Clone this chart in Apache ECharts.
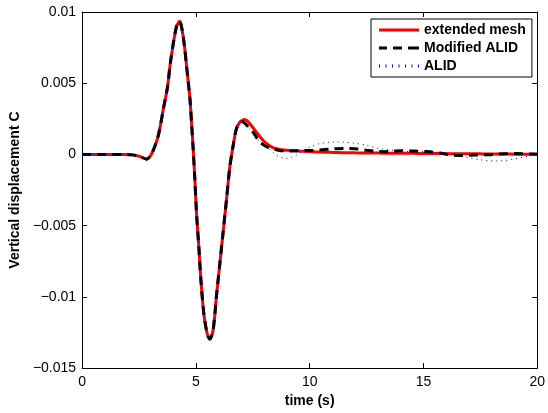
<!DOCTYPE html>
<html>
<head>
<meta charset="utf-8">
<script src="https://cdn.jsdelivr.net/npm/echarts@6/dist/echarts.min.js"></script>
<style>
html,body{margin:0;padding:0;background:#fff;}
#chart{width:548px;height:413px;}
</style>
</head>
<body>
<div id="chart"></div>
<script>
const seriesNames = ['extended mesh', 'Modified ALID', 'ALID'];
const yTickLabels = ['\u22120.015', '\u22120.01', '\u22120.005', '0', '0.005', '0.01'];
const xTickLabels = ['0', '5', '10', '15', '20'];

const time = [0, 1, 1.8, 2.2, 2.5, 2.84, 3.0, 3.13, 3.25, 3.35, 3.46, 3.57, 3.67, 3.76, 3.86, 3.95, 4.05, 4.15, 4.22, 4.28, 4.35, 4.44, 4.52, 4.59, 4.67, 4.74, 4.81, 4.88, 4.96, 5.03, 5.13, 5.22, 5.35, 5.47, 5.54, 5.61, 5.68, 5.76, 5.83, 5.9, 6.05, 6.2, 6.35, 6.49, 6.64, 6.78, 6.93, 7.05, 7.15, 7.26, 7.37, 7.51, 7.66, 7.8, 7.95, 8.1, 8.25, 8.39, 8.54, 8.68, 8.83, 8.98, 9.2, 9.42, 9.64, 9.85, 10.14, 10.44, 10.88, 11.17, 11.6, 12.0, 12.49, 12.85, 13.2, 13.6, 14.02, 14.4, 14.75, 15.15, 15.56, 15.9, 16.28, 16.7, 17.09, 17.45, 17.82, 18.2, 18.62, 19.0, 19.36, 19.7, 20];

const extendedMesh = [0, 0, 0, -0.00003, -0.00012, -0.00033, -0.0001, 0.0003, 0.0008, 0.00134, 0.0022, 0.0032, 0.0040, 0.0048, 0.0062, 0.0072, 0.0082, 0.0090, 0.0092, 0.00935, 0.0091, 0.0083, 0.0073, 0.0062, 0.0050, 0.0039, 0.0022, 0.0004, -0.0019, -0.0042, -0.0065, -0.0088, -0.0112, -0.0124, -0.0128, -0.01296, -0.0128, -0.0123, -0.0113, -0.0100, -0.0077, -0.0054, -0.0031, -0.0009, 0.00065, 0.0018, 0.00227, 0.0024, 0.00245, 0.00235, 0.00215, 0.00187, 0.00157, 0.00128, 0.0010, 0.00078, 0.0006, 0.00048, 0.0004, 0.00035, 0.00031, 0.00029, 0.00027, 0.00025, 0.00023, 0.00021, 0.00019, 0.00017, 0.00015, 0.00013, 0.00012, 0.00011, 0.0001, 0.0001, 0.00009, 0.00009, 0.00008, 0.00008, 0.00007, 0.00007, 0.00006, 0.00006, 0.00005, 0.00005, 0.00004, 0.00004, 0.00003, 0.00003, 0.00003, 0.00002, 0.00002, 0.00002, 0.00002];

const modifiedALID = [0, 0, 0, -0.00003, -0.00012, -0.00033, -0.0001, 0.0003, 0.0008, 0.00134, 0.0022, 0.0032, 0.0040, 0.0048, 0.0062, 0.0072, 0.0082, 0.0090, 0.0092, 0.00935, 0.0091, 0.0083, 0.0073, 0.0062, 0.0050, 0.0039, 0.0022, 0.0004, -0.0019, -0.0042, -0.0065, -0.0088, -0.0112, -0.0124, -0.0128, -0.01296, -0.0128, -0.0123, -0.0113, -0.0100, -0.0077, -0.0054, -0.0031, -0.0009, 0.00065, 0.0018, 0.00222, 0.0023, 0.0022, 0.0020, 0.0018, 0.00157, 0.0012, 0.00088, 0.0007, 0.00055, 0.00045, 0.0004, 0.00033, 0.00028, 0.00025, 0.00023, 0.00024, 0.00026, 0.00028, 0.00027, 0.00028, 0.00032, 0.00037, 0.0004, 0.00042, 0.0004, 0.0003, 0.00023, 0.00019, 0.00022, 0.00026, 0.00025, 0.00023, 0.0002, 0.00014, 0.00005, -0.00005, -0.00007, -0.00005, -0.00003, -0.00002, 0.00002, 0.00005, 0.00006, 0.00005, 0.00003, 0.00002];

const alid = [0, 0, 0, -0.00003, -0.00012, -0.00033, -0.0001, 0.0003, 0.0008, 0.00134, 0.0022, 0.0032, 0.0040, 0.0048, 0.0062, 0.0072, 0.0082, 0.0090, 0.0092, 0.00935, 0.0091, 0.0083, 0.0073, 0.0062, 0.0050, 0.0039, 0.0022, 0.0004, -0.0019, -0.0042, -0.0065, -0.0088, -0.0112, -0.0124, -0.0128, -0.01296, -0.0128, -0.0123, -0.0113, -0.0100, -0.0077, -0.0054, -0.0031, -0.0009, 0.00065, 0.0018, 0.00222, 0.0023, 0.0022, 0.0020, 0.0018, 0.00157, 0.0012, 0.00088, 0.00072, 0.00053, 0.0003, 0.00013, -0.00005, -0.00017, -0.00025, -0.00028, -0.0002, -0.00005, 0.00018, 0.0004, 0.0006, 0.00076, 0.00086, 0.00088, 0.00085, 0.00078, 0.00065, 0.0005, 0.00038, 0.0003, 0.00023, 0.0002, 0.0002, 0.00019, 0.00016, 0.0001, 0.00002, -0.00012, -0.00026, -0.00036, -0.00044, -0.00046, -0.00042, -0.00031, -0.0002, -0.0001, -0.00005];

const FONT = '"Liberation Sans", Arial, Helvetica, sans-serif';
const chart = echarts.init(document.getElementById('chart'), null, {renderer: 'canvas'});

const pair = arr => time.map((t, i) => [t, arr[i]]);
const xFmt = v => xTickLabels[Math.round(v / 5)] ?? '';
const yFmt = v => yTickLabels[Math.round((v + 0.015) / 0.005)] ?? '';

// legend icon shapes (style only)
const solidIcon = 'path://M0,0h40v3h-40z';
const dashIcon = 'path://M0,0h8v3h-8z M14,0h9v3h-9z M29,0h11v3h-11z';
let dotPath = '';
for (let i = 0; i < 7; i++) { dotPath += 'M' + (i * 6.5) + ',0h1v3h-1z '; }
const dotIcon = 'path://' + dotPath.trim();

const axisCommon = {
  type: 'value',
  axisLine: {show: true, onZero: false, lineStyle: {color: '#000', width: 1}},
  axisTick: {show: true, inside: true, length: 5, lineStyle: {color: '#000', width: 1}},
  splitLine: {show: false}
};

chart.setOption({
  backgroundColor: '#fff',
  animation: false,
  grid: {left: 82, right: 10, top: 12, bottom: 41, show: false},
  legend: {
    data: [
      {name: seriesNames[0], icon: solidIcon},
      {name: seriesNames[1], icon: dashIcon},
      {name: seriesNames[2], icon: dotIcon}
    ],
    orient: 'vertical',
    left: 371, top: 19,
    itemWidth: 40, itemHeight: 14, itemGap: 4,
    padding: [4, 6, 4, 8],
    backgroundColor: '#fff',
    borderColor: '#000', borderWidth: 1,
    itemStyle: {borderWidth: 0},
    textStyle: {fontFamily: FONT, fontSize: 14, fontWeight: 'bold', color: '#000'}
  },
  xAxis: [
    Object.assign({}, axisCommon, {
      position: 'bottom', min: 0, max: 20, interval: 5,
      axisLabel: {color: '#000', fontSize: 14, fontFamily: FONT, margin: 7, formatter: xFmt},
      name: 'time (s)', nameLocation: 'middle', nameGap: 22,
      nameTextStyle: {fontFamily: FONT, fontSize: 14, fontWeight: 'bold', color: '#000'}
    }),
    Object.assign({}, axisCommon, {
      position: 'top', min: 0, max: 20, interval: 5,
      axisLabel: {show: false}
    })
  ],
  yAxis: [
    Object.assign({}, axisCommon, {
      position: 'left', min: -0.015, max: 0.01, interval: 0.005,
      axisLabel: {color: '#000', fontSize: 14, fontFamily: FONT, margin: 6, formatter: yFmt},
      name: 'Vertical displacement C', nameLocation: 'middle', nameGap: 54,
      nameTextStyle: {fontFamily: FONT, fontSize: 14, fontWeight: 'bold', color: '#000'}
    }),
    Object.assign({}, axisCommon, {
      position: 'right', min: -0.015, max: 0.01, interval: 0.005,
      axisLabel: {show: false}
    })
  ],
  series: [
    {
      name: seriesNames[0], type: 'line', data: pair(extendedMesh),
      symbol: 'none', showSymbol: false, smooth: 0.3,
      lineStyle: {color: '#ff0000', width: 3}, itemStyle: {color: '#ff0000'}, z: 2
    },
    {
      name: seriesNames[1], type: 'line', data: pair(modifiedALID),
      symbol: 'none', showSymbol: false, smooth: 0.3,
      lineStyle: {color: '#000000', width: 3, type: [9, 6]}, itemStyle: {color: '#000000'}, z: 3
    },
    {
      name: seriesNames[2], type: 'line', data: pair(alid),
      symbol: 'none', showSymbol: false, smooth: 0.3,
      lineStyle: {color: '#0000ff', width: 1, type: [1, 4]}, itemStyle: {color: '#0000ff'}, z: 4
    }
  ]
});
</script>
</body>
</html>
